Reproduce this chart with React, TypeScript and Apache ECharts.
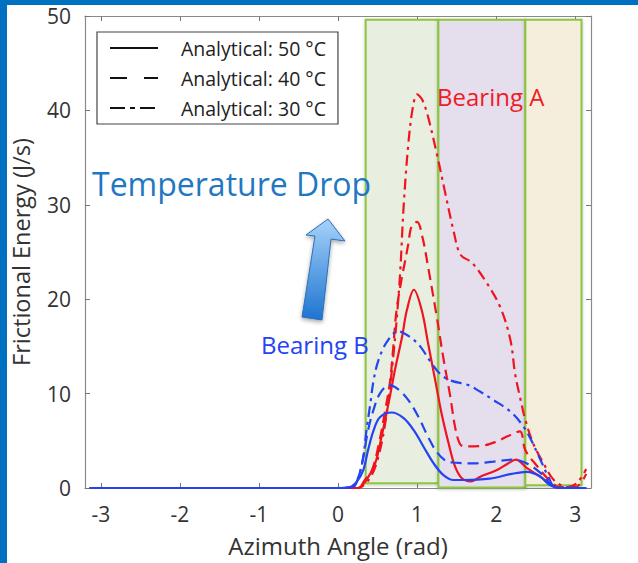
import React, { useEffect, useRef } from "react";
import * as echarts from "echarts";

// ---- data ----
const xTicks = [-3, -2, -1, 0, 1, 2, 3];

const legendNames = ["Analytical: 50 °C", "Analytical: 40 °C", "Analytical: 30 °C"];

// Bearing A (red)
const a50X = [-3.14, 0.0, 0.25, 0.36, 0.47, 0.55, 0.64, 0.72, 0.81, 0.87, 0.96, 1.06, 1.14, 1.23, 1.31, 1.4, 1.48, 1.57, 1.68, 1.8, 2.01, 2.15, 2.25, 2.39, 2.56, 2.68, 2.8, 3.14];
const a50Y = [0, 0, 0, 0.85, 2.6, 5.4, 9, 12.5, 16, 18.8, 21, 18.8, 15.3, 11.4, 7.9, 4.7, 2.3, 1.0, 0.7, 1.2, 1.9, 2.6, 3.0, 2.1, 1.2, 0.4, 0, 0];

const a40X = [-3.14, 0.0, 0.25, 0.34, 0.43, 0.51, 0.59, 0.66, 0.7, 0.74, 0.81, 0.85, 0.89, 0.93, 1.0, 1.07, 1.14, 1.25, 1.33, 1.42, 1.48, 1.54, 1.6, 1.8, 2.0, 2.15, 2.3, 2.37, 2.52, 2.67, 2.8, 3.0, 3.14];
const a40Y = [0, 0, 0, 0.85, 1.9, 4.4, 7.9, 11.4, 15, 18.8, 22.4, 24.1, 25.9, 27.7, 28.2, 26.5, 23.4, 18.1, 13.9, 9.7, 6.5, 4.7, 4.4, 4.45, 4.9, 5.5, 6.0, 4.0, 2.3, 0.85, 0.1, 0.1, 1.5];

const a30X = [-3.14, 0.0, 0.25, 0.4, 0.5, 0.6, 0.7, 0.78, 0.83, 0.89, 0.95, 1.0, 1.06, 1.13, 1.25, 1.35, 1.46, 1.55, 1.69, 1.86, 2.05, 2.18, 2.24, 2.3, 2.37, 2.47, 2.6, 2.73, 2.9, 3.02, 3.14];
const a30Y = [0, 0, 0, 1, 3, 7, 14, 22, 29.8, 36.5, 40.5, 41.7, 41.2, 39.6, 35.4, 31.5, 27.3, 24.7, 23.9, 22, 19.2, 15.7, 12.1, 9.7, 7.2, 4.7, 2.6, 0.85, 0.1, 0.5, 2.0];

// Bearing B (blue)
const b50X = [-3.14, 0.0, 0.15, 0.24, 0.32, 0.38, 0.45, 0.53, 0.68, 0.83, 0.96, 1.08, 1.21, 1.33, 1.46, 1.59, 1.92, 2.2, 2.39, 2.56, 2.68, 2.8, 3.14];
const b50Y = [0, 0, 0.1, 0.7, 1.9, 4.0, 6.1, 7.5, 8.0, 7.4, 6.1, 4.4, 2.6, 1.4, 0.85, 0.85, 1.0, 1.5, 1.7, 1.2, 0.3, 0, 0];

const b40X = [-3.14, 0.0, 0.18, 0.26, 0.32, 0.38, 0.45, 0.53, 0.65, 0.77, 0.89, 1.02, 1.14, 1.25, 1.38, 1.46, 1.71, 1.97, 2.22, 2.39, 2.56, 2.68, 2.8, 3.14];
const b40Y = [0, 0, 0.1, 1.2, 3.3, 6.1, 8.3, 10, 10.9, 10.4, 9.3, 7.5, 5.4, 3.8, 2.8, 2.7, 2.6, 2.8, 3.0, 2.6, 1.6, 0.5, 0, 0];

const b30X = [-3.14, 0.0, 0.19, 0.26, 0.32, 0.36, 0.41, 0.45, 0.51, 0.62, 0.76, 0.91, 1.04, 1.16, 1.29, 1.42, 1.65, 1.76, 1.97, 2.18, 2.33, 2.43, 2.56, 2.66, 2.75, 3.14];
const b30Y = [0, 0, 0.1, 1.2, 3.3, 6.1, 9, 11.4, 13.5, 15.5, 16.6, 16.0, 15, 13.5, 12.1, 11.4, 10.9, 10.4, 9.3, 8.1, 6.7, 5.3, 3.0, 1.2, 0.1, 0];

// shaded zones (x ranges, y ranges)
const zoneX = [[0.35, 1.27], [1.27, 2.37], [2.37, 3.08]];
const zoneY = [[0.5, 49.6], [0.05, 49.6], [0.3, 49.6]];

const pairs = (xs: number[], ys: number[]) => xs.map((x, i) => [x, ys[i]]);

const RED = "#f0141e";
const BLUE = "#2343f5";
const DASH = [11, 6];
const DASHDOT = [11, 5, 3, 5];

export default function App() {
  const ref = useRef<HTMLDivElement>(null);
  useEffect(() => {
    document.body.style.margin = "0";
    const chart = echarts.init(ref.current!, null, { renderer: "svg" });
    const font = "'Open Sans', sans-serif";

    const lineSeries = (name: string, data: number[][], color: string, type: any) => ({
      name,
      type: "line",
      data,
      smooth: 0.35,
      symbol: "none",
      z: 3,
      lineStyle: { color, width: 2.2, type },
      itemStyle: { color },
    });

    const legendSeries = (name: string, type: any) => ({
      name,
      type: "line",
      data: [[-10, -10]],
      symbol: "none",
      showSymbol: false,
      lineStyle: { color: "#111", width: 2.5, type },
      itemStyle: { color: "#111" },
    });

    const zoneColors = ["#e8efe1", "#e5dfed", "#f5eedd"];
    const axisLineStyle = { color: "#8a8a8a", width: 1.2 };

    const option: any = {
      animation: false,
      backgroundColor: "#ffffff",
      textStyle: { fontFamily: font },
      grid: { left: 85, top: 16, width: 506, height: 472, containLabel: false, outerBoundsMode: "none" },
      xAxis: [
        {
          type: "value",
          min: -3.2,
          max: 3.2,
          position: "bottom",
          name: "Azimuth Angle (rad)",
          nameLocation: "middle",
          nameGap: 44,
          nameTextStyle: { fontSize: 24, color: "#333", fontFamily: font, lineHeight: 26 },
          axisLine: { show: true, onZero: false, lineStyle: axisLineStyle },
          axisTick: { show: true, inside: true, length: 5, customValues: xTicks, lineStyle: { color: "#777" } },
          axisLabel: { show: true, customValues: xTicks, fontSize: 21, color: "#333", margin: 15, fontFamily: font },
          splitLine: { show: false },
        },
        {
          type: "value",
          min: -3.2,
          max: 3.2,
          position: "top",
          axisLine: { show: true, onZero: false, lineStyle: axisLineStyle },
          axisTick: { show: true, inside: true, length: 5, customValues: xTicks, lineStyle: { color: "#777" } },
          axisLabel: { show: false },
          splitLine: { show: false },
        },
      ],
      yAxis: [
        {
          type: "value",
          min: 0,
          max: 50,
          interval: 10,
          position: "left",
          name: "Frictional Energy (J/s)",
          nameLocation: "middle",
          nameGap: 52,
          nameTextStyle: { fontSize: 23.5, color: "#333", fontFamily: font },
          axisLine: { show: true, onZero: false, lineStyle: axisLineStyle },
          axisTick: { show: true, inside: true, length: 5, lineStyle: { color: "#777" } },
          axisLabel: { fontSize: 21, color: "#333", margin: 14, fontFamily: font },
          splitLine: { show: false },
        },
        {
          type: "value",
          min: 0,
          max: 50,
          interval: 10,
          position: "right",
          axisLine: { show: true, onZero: false, lineStyle: axisLineStyle },
          axisTick: { show: true, inside: true, length: 5, lineStyle: { color: "#777" } },
          axisLabel: { show: false },
          splitLine: { show: false },
        },
      ],
      legend: {
        show: true,
        orient: "vertical",
        left: 97,
        top: 32,
        data: legendNames,
        backgroundColor: "#ffffff",
        borderColor: "#444",
        borderWidth: 1.2,
        borderRadius: 0,
        padding: [6, 12, 6, 12],
        itemWidth: 48,
        itemHeight: 14,
        itemGap: 10,
        itemStyle: { color: "rgba(0,0,0,0)", borderWidth: 0, opacity: 0 },
        textStyle: { fontSize: 19.5, color: "#222", fontFamily: font, lineHeight: 20, padding: [0, 0, 0, 18] },
      },
      series: [
        {
          name: "zones",
          type: "line",
          data: [],
          z: 1,
          silent: true,
          markArea: {
            silent: true,
            data: zoneX.map((zx, i) => [
              {
                xAxis: zx[0],
                yAxis: zoneY[i][1],
                itemStyle: {
                  color: zoneColors[i],
                  borderColor: "#8cc63f",
                  borderWidth: 2,
                  shadowColor: "rgba(0,0,0,0.25)",
                  shadowBlur: 3,
                  shadowOffsetY: 1,
                },
              },
              { xAxis: zx[1], yAxis: zoneY[i][0] },
            ]),
          },
        },
        lineSeries("Bearing A 50", pairs(a50X, a50Y), RED, "solid"),
        lineSeries("Bearing A 40", pairs(a40X, a40Y), RED, DASH),
        lineSeries("Bearing A 30", pairs(a30X, a30Y), RED, DASHDOT),
        lineSeries("Bearing B 50", pairs(b50X, b50Y), BLUE, "solid"),
        lineSeries("Bearing B 40", pairs(b40X, b40Y), BLUE, DASH),
        lineSeries("Bearing B 30", pairs(b30X, b30Y), BLUE, DASHDOT),
        // legend-only series (black line styles)
        legendSeries(legendNames[0], "solid"),
        legendSeries(legendNames[1], [17, 17]),
        legendSeries(legendNames[2], [15, 5, 5, 5]),
      ],
      graphic: [
        { type: "rect", left: 0, top: 0, shape: { width: 638, height: 5 }, style: { fill: "#0070c0" }, z: 100 },
        { type: "rect", left: 0, top: 0, shape: { width: 7, height: 563 }, style: { fill: "#0070c0" }, z: 100 },
        {
          type: "text",
          left: 92,
          top: 167,
          z: 50,
          style: { text: "Temperature Drop", fill: "#1f78c1", font: `32px ${font}` },
        },
        {
          type: "text",
          left: 437,
          top: 84,
          z: 50,
          style: { text: "Bearing A", fill: "#ee1c25", font: `24px ${font}` },
        },
        {
          type: "text",
          left: 261,
          top: 332,
          z: 50,
          style: { text: "Bearing B", fill: "#2343f5", font: `24px ${font}` },
        },
        {
          type: "polygon",
          z: 50,
          shape: {
            points: [
              [328, 219],
              [345, 241],
              [331, 239],
              [322, 320],
              [302, 317],
              [315, 236],
              [306, 235],
            ],
          },
          style: {
            fill: new echarts.graphic.LinearGradient(0, 0, 0, 1, [
              { offset: 0, color: "#a6d2fa" },
              { offset: 1, color: "#1d74d0" },
            ]),
            stroke: "#2f6fb8",
            lineWidth: 1,
            shadowColor: "rgba(0,0,0,0.35)",
            shadowBlur: 4,
            shadowOffsetY: 2,
          },
        },
      ],
    };
    chart.setOption(option);
    return () => chart.dispose();
  }, []);
  return <div ref={ref} style={{ position: "absolute", left: 0, top: 0, width: 638, height: 563 }} />;
}
